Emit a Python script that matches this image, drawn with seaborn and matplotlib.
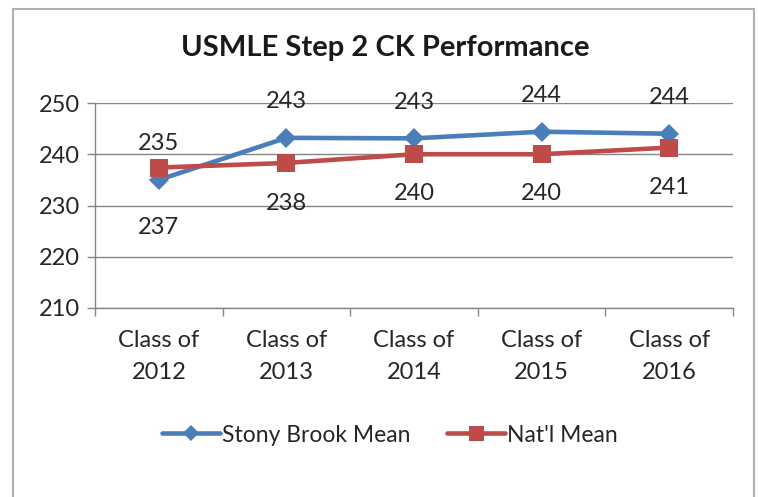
import matplotlib
matplotlib.use("Agg")
import matplotlib.pyplot as plt
from matplotlib.patches import Rectangle
from matplotlib.ticker import FixedLocator
import seaborn as sns
import pandas as pd

categories = ["Class of\n2012", "Class of\n2013", "Class of\n2014", "Class of\n2015", "Class of\n2016"]
stony_brook = [235.0, 243.2, 243.1, 244.4, 244.0]
national = [237.4, 238.3, 240.0, 240.0, 241.3]
series_names = ["Stony Brook Mean", "Nat'l Mean"]
y_ticks = [210, 220, 230, 240, 250]
title = "USMLE Step 2 CK Performance"

sns.set_theme(style="white")
plt.rcParams["font.family"] = ["Lato", "DejaVu Sans"]

W, H = 758, 497
fig = plt.figure(figsize=(W / 100, H / 100), dpi=100)
ax = fig.add_axes([95 / W, 1 - 308 / H, (733 - 95) / W, (308 - 103) / H])

blue = "#4A7EBB"
red = "#BE4B48"
df = pd.DataFrame({"cat": categories * 2,
                   "val": stony_brook + national,
                   "series": [series_names[0]] * 5 + [series_names[1]] * 5})

sns.lineplot(data=df[df.series == series_names[0]], x="cat", y="val", ax=ax,
             color=blue, lw=3.3, marker="D", markersize=10.5, markeredgewidth=0,
             label=series_names[0], legend=False, sort=False)
sns.lineplot(data=df[df.series == series_names[1]], x="cat", y="val", ax=ax,
             color=red, lw=3.3, marker="s", markersize=13.5, markeredgewidth=0,
             label=series_names[1], legend=False, sort=False)

FS = 17
ax.set_xlim(-0.5, len(categories) - 0.5)
ax.set_ylim(y_ticks[0], y_ticks[-1])
ax.set_yticks(y_ticks)
ax.set_xlabel("")
ax.set_ylabel("")
ax.yaxis.grid(True, color="#868686", lw=1)
ax.xaxis.grid(False)
ax.set_axisbelow(True)
for s in ["top", "right"]:
    ax.spines[s].set_visible(False)
for s in ["left", "bottom"]:
    ax.spines[s].set_color("#868686")
    ax.spines[s].set_linewidth(1)

ax.xaxis.set_minor_locator(FixedLocator([i - 0.5 for i in range(len(categories) + 1)]))
ax.tick_params(axis="x", which="major", length=0, pad=16, labelsize=FS, labelcolor="#262626")
ax.tick_params(axis="x", which="minor", length=6, color="#868686", width=1, direction="out", bottom=True)
ax.tick_params(axis="y", which="major", length=6, color="#868686", width=1, direction="out",
               left=True, pad=5, labelsize=FS, labelcolor="#262626")
for lbl in ax.get_xticklabels():
    lbl.set_linespacing(1.65)

# data labels (offsets in points; blue above, red below)
blue_off = [26, 26, 26, 26, 26]
red_off = [-43, -29, -28, -28, -29]
for i, v in enumerate(stony_brook):
    ax.annotate(f"{v:.0f}", (i, v), xytext=(0, blue_off[i]), textcoords="offset points",
                ha="center", va="center", fontsize=FS, color="#262626")
for i, v in enumerate(national):
    ax.annotate(f"{v:.0f}", (i, v), xytext=(0, red_off[i]), textcoords="offset points",
                ha="center", va="center", fontsize=FS, color="#262626")

fig.text(385 / W, 1 - 48 / H, title, ha="center", va="center", fontsize=21,
         fontweight="bold", color="#1a1a1a")

handles, labels = ax.get_legend_handles_labels()
fig.legend(handles, labels, loc="center", bbox_to_anchor=(390 / W, 1 - 435 / H), ncol=2,
           frameon=False, fontsize=16.5, handlelength=2.5, handletextpad=0.1,
           columnspacing=1.6, labelcolor="#262626", markerscale=0.8)

fig.patches.append(Rectangle((13 / W, -0.05), (754 - 13) / W, 1.05 - 9 / H,
                             transform=fig.transFigure, fill=False,
                             edgecolor="#B0B0B0", lw=1.5))

fig.savefig("out.png", dpi=100)
